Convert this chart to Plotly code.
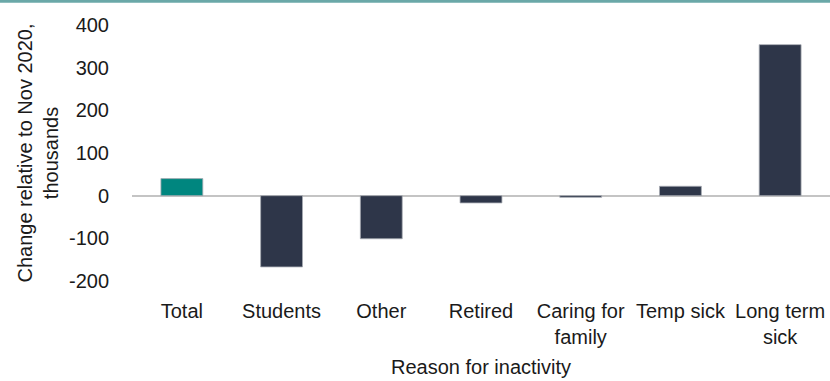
import plotly.graph_objects as go

# Change in economic inactivity by reason, thousands, relative to Nov 2020
categories = ["Total", "Students", "Other", "Retired", "Caring for<br>family", "Temp sick", "Long term<br>sick"]
values = [40, -167, -101, -17, -4, 22, 354]
bar_colors = ["#00867f", "#2e3649", "#2e3649", "#2e3649", "#2e3649", "#2e3649", "#2e3649"]
y_ticks = [-200, -100, 0, 100, 200, 300, 400]
y_tick_labels = ["-200", "-100", "0", "100", "200", "300", "400"]

FONT = "Liberation Sans, Arial, sans-serif"
FS = 20
W, H = 830, 381
M_L, M_R, M_T, M_B = 132, 0, 25, 100
plot_h = H - M_T - M_B

fig = go.Figure(
    go.Bar(
        x=categories,
        y=values,
        marker=dict(color=bar_colors, line=dict(color="#a7abb3", width=0.8)),
        width=0.42,
    )
)

fig.update_layout(
    width=W,
    height=H,
    margin=dict(l=M_L, r=M_R, t=M_T, b=M_B, autoexpand=False),
    paper_bgcolor="white",
    plot_bgcolor="white",
    font=dict(family=FONT, size=FS, color="#1a1a1a"),
    showlegend=False,
)

fig.update_xaxes(
    showline=False,
    showgrid=False,
    zeroline=False,
    ticks="",
    tickangle=0,
    ticklabelstandoff=16,
    tickfont=dict(size=FS),
    title=dict(text="Reason for inactivity", font=dict(size=FS), standoff=12),
    automargin=False,
)

fig.update_yaxes(
    range=[-200, 400],
    tickvals=y_ticks,
    ticktext=y_tick_labels,
    showgrid=False,
    showline=False,
    zeroline=True,
    zerolinecolor="#c4c4c4",
    zerolinewidth=1.5,
    ticks="",
    ticklabelstandoff=22,
    tickfont=dict(size=FS),
    title=dict(text="Change relative to Nov 2020,<br>thousands", font=dict(size=FS), standoff=4),
    automargin=False,
)

# Teal rule along the top edge of the figure
fig.add_shape(
    type="line",
    xref="paper", yref="paper",
    x0=-M_L / (W - M_L - M_R), x1=1 + M_R / (W - M_L - M_R),
    y0=1 + (M_T - 1.2) / plot_h, y1=1 + (M_T - 1.2) / plot_h,
    line=dict(color="#6aa8a8", width=3),
)

fig.write_html("out.html")
